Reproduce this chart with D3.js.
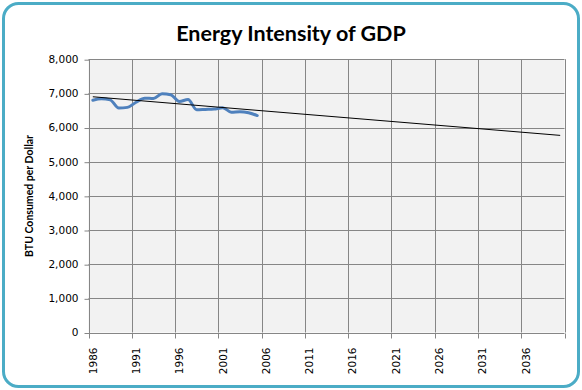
<!DOCTYPE html>
<html><head><meta charset="utf-8">
<script src="https://cdn.jsdelivr.net/npm/d3@7"></script>
<style>html,body{margin:0;padding:0;background:#fff;}</style>
</head><body>
<script>
const years = d3.range(1986, 2041).map(String);
const dataYears = ["1986","1987","1988","1989","1990","1991","1992","1993","1994","1995","1996","1997","1998","1999","2000","2001","2002","2003","2004","2005"];
const intensity = [6800,6840,6810,6570,6590,6740,6860,6850,6990,6960,6760,6820,6520,6530,6540,6580,6450,6460,6430,6350];
const trendYears = ["1986","2040"];
const trendValues = [6900,5770];
const yTicks = [0,1000,2000,3000,4000,5000,6000,7000,8000];
const xLabelYears = ["1986","1991","1996","2001","2006","2011","2016","2021","2026","2031","2036"];

const W=582,H=390;
const svg=d3.select("body").append("svg").attr("width",W).attr("height",H);
svg.append("rect").attr("x",3.5).attr("y",3.5).attr("width",575).attr("height",383).attr("rx",15).attr("ry",15)
  .attr("fill","#fff").attr("stroke","#4BACC6").attr("stroke-width",3);

const L=88.5,R=564.5,T=59.2,B=332.5;
const x=d3.scaleBand().domain(years).range([L,R]).paddingInner(0).paddingOuter(0);
const y=d3.scaleLinear().domain([0,8000]).range([B,T]);
const cx=d=>x(d)+x.bandwidth()/2;

svg.append("rect").attr("x",L).attr("y",T).attr("width",R-L).attr("height",B-T).attr("fill","#F2F2F2");

// horizontal gridlines
svg.append("g").selectAll("line").data(yTicks.slice(1)).join("line")
  .attr("x1",L).attr("x2",R).attr("y1",d=>Math.round(y(d))+0.5).attr("y2",d=>Math.round(y(d))+0.5)
  .attr("stroke","#868686").attr("stroke-width",1);
// vertical gridlines at every 5th boundary
const boundaries = years.filter((d,i)=>i%5===0).map(d=>x(d)).concat([R]);
svg.append("g").selectAll("line").data(boundaries.slice(1)).join("line")
  .attr("x1",d=>Math.round(d)+0.5).attr("x2",d=>Math.round(d)+0.5).attr("y1",T).attr("y2",B)
  .attr("stroke","#868686").attr("stroke-width",1);

// y axis
const yAxis=d3.axisLeft(y).tickValues(yTicks).tickSize(5).tickPadding(6).tickFormat(d3.format(","));
const gy=svg.append("g").attr("transform",`translate(${Math.round(L)+0.5},0)`).call(yAxis);
gy.select(".domain").attr("stroke","#868686").attr("d",`M-0,${T}V${B+0.5}`);
gy.selectAll(".tick line").attr("stroke","#868686").attr("transform","translate(0,0.5)");
gy.selectAll("text").attr("font-family","'DejaVu Sans',Verdana,sans-serif").attr("font-size","10.5px").attr("fill","#000");

// x axis
const gx=svg.append("g").attr("transform",`translate(0,${Math.round(B)+0.5})`);
gx.append("line").attr("x1",L).attr("x2",R).attr("stroke","#868686");
gx.selectAll(".tk").data(boundaries).join("line").attr("class","tk")
  .attr("x1",d=>Math.round(d)+0.5).attr("x2",d=>Math.round(d)+0.5).attr("y1",0).attr("y2",5).attr("stroke","#868686");
gx.selectAll("text").data(xLabelYears).join("text")
  .attr("transform",d=>`translate(${cx(d)+4},14) rotate(-90)`)
  .attr("text-anchor","end").attr("font-family","'DejaVu Sans',Verdana,sans-serif").attr("font-size","10.5px").attr("fill","#000")
  .text(d=>d);

// data line
const line=d3.line().x(d=>cx(d[0])).y(d=>y(d[1])).curve(d3.curveMonotoneX);
svg.append("path").datum(dataYears.map((d,i)=>[d,intensity[i]])).attr("d",line)
  .attr("fill","none").attr("stroke","#4F81BD").attr("stroke-width",3).attr("stroke-linejoin","round").attr("stroke-linecap","round");

// trend line
svg.append("path").datum(trendYears.map((d,i)=>[d,trendValues[i]])).attr("d",d3.line().x(d=>cx(d[0])).y(d=>y(d[1])))
  .attr("fill","none").attr("stroke","#000").attr("stroke-width",1);

// titles
svg.append("text").attr("x",291).attr("y",41).attr("text-anchor","middle")
  .attr("font-family","Lato,'Open Sans',sans-serif").attr("font-weight","bold").attr("font-size","21.5px").text("Energy Intensity of GDP");
svg.append("text").attr("transform","translate(33,196) rotate(-90)").attr("text-anchor","middle")
  .attr("font-family","Lato,'Open Sans',sans-serif").attr("font-weight","bold").attr("font-size","10.5px").text("BTU Consumed per Dollar");
</script>
</body></html>
